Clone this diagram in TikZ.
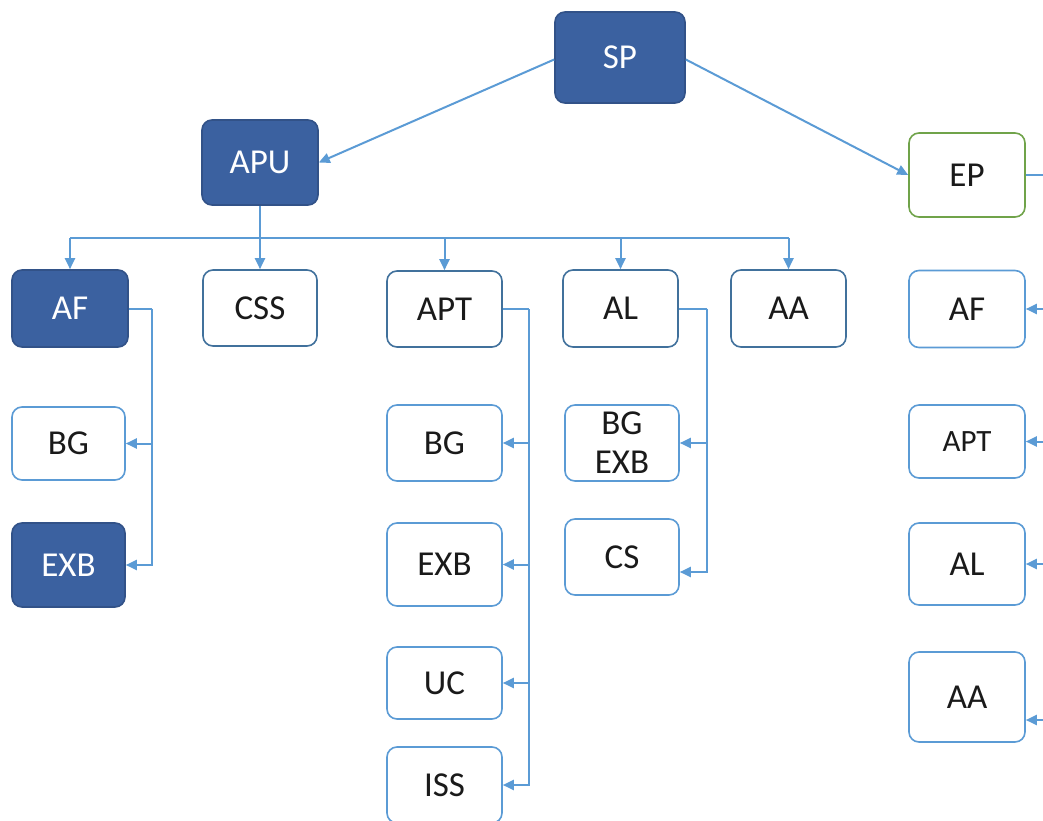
\documentclass[tikz,border=0pt]{standalone}
\usepackage{fontspec}
\setmainfont{Carlito}
\usetikzlibrary{arrows.meta,calc}
\definecolor{darkfill}{HTML}{3B61A0}
\definecolor{darkline}{HTML}{41719C}
\definecolor{lightline}{HTML}{5B9BD5}
\definecolor{greenline}{HTML}{70A34A}
\definecolor{txt}{HTML}{1A1A1A}
\tikzset{
  box/.style={rectangle, rounded corners=10pt, inner sep=0pt, line width=1.6pt,
    font=\fontsize{35}{39}\selectfont, align=center, text=txt},
  dark/.style={box, fill=darkfill, draw=darkfill!85!black, text=white},
  outl/.style={box, fill=white, draw=darkline},
  lite/.style={box, fill=white, draw=lightline},
  grn/.style={box, fill=white, draw=greenline},
  conn/.style={draw=lightline, line width=2pt, -{Triangle[length=11pt,width=10pt]}},
  plain/.style={draw=lightline, line width=2pt}
}
\begin{document}
\begin{tikzpicture}[x=1pt,y=-1pt]
\useasboundingbox (0,0) rectangle (1043,821);
\clip (0,0) rectangle (1043,821);
\coordinate (redge) at (1060,0);
% top level
\node[dark, minimum width=130pt, minimum height=91pt] (sp) at (620,57.5) {SP};
\node[dark, minimum width=116pt, minimum height=85pt] (apu) at (260,162.5) {APU};
\node[grn, minimum width=116pt, minimum height=84pt] (ep) at (967,175) {EP};
% row 1
\node[dark, minimum width=116pt, minimum height=77pt] (af1) at (70,308.5) {AF};
\node[outl, minimum width=114pt, minimum height=76pt] (css) at (260,308) {CSS};
\node[outl, minimum width=115pt, minimum height=76pt] (apt1) at (444.5,309) {APT};
\node[outl, minimum width=115pt, minimum height=77pt] (al1) at (620.5,308.5) {AL};
\node[outl, minimum width=115pt, minimum height=77pt] (aa1) at (788.5,308.5) {AA};
% AF children
\node[lite, minimum width=113pt, minimum height=73pt] (bg1) at (68.5,443.5) {BG};
\node[dark, minimum width=113pt, minimum height=84pt] (exb1) at (68.5,565) {EXB};
% APT children
\node[lite, minimum width=115pt, minimum height=76pt] (bg2) at (444.5,443) {BG};
\node[lite, minimum width=115pt, minimum height=83pt] (exb2) at (444.5,564.5) {EXB};
\node[lite, minimum width=115pt, minimum height=72pt] (uc) at (444.5,683) {UC};
\node[lite, minimum width=115pt, minimum height=76pt] (iss) at (444.5,785) {ISS};
% AL children
\node[lite, minimum width=114pt, minimum height=76pt] (bgexb) at (622,443) {BG\\EXB};
\node[lite, minimum width=114pt, minimum height=76pt] (cs) at (622,557) {CS};
% right column
\node[lite, minimum width=116pt, minimum height=77pt] (af2) at (967,309) {AF};
\node[lite, minimum width=116pt, minimum height=73pt] (apt2) at (967,441.5) {\fontsize{31}{36}\selectfont APT};
\node[lite, minimum width=116pt, minimum height=82pt] (al2) at (967,564) {AL};
\node[lite, minimum width=116pt, minimum height=90pt] (aa2) at (967,697) {AA};
% connectors top
\draw[conn] ([yshift=-2pt]sp.west) -- (apu.east);
\draw[conn] ([yshift=-2pt]sp.east) -- (ep.west);
\draw[plain] (ep.east) -- (ep.east -| redge);
% bus
\coordinate (bus) at (260,238);
\draw[plain] (apu.south) -- (bus);
\draw[plain] (af1.north |- bus) -- (aa1.north |- bus);
\draw[conn] (af1.north |- bus) -- (af1.north);
\draw[conn] (bus) -- (css.north);
\draw[conn] (apt1.north |- bus) -- (apt1.north);
\draw[conn] (al1.north |- bus) -- (al1.north);
\draw[conn] (aa1.north |- bus) -- (aa1.north);
% AF trunk
\coordinate (t1) at (152,308.5);
\draw[plain] (af1.east) -- (t1);
\draw[conn] (t1) |- (exb1.east);
\draw[conn] (t1 |- bg1.east) -- (bg1.east);
% APT trunk
\coordinate (t2) at (529,309);
\draw[plain] (apt1.east) -- (t2);
\draw[conn] (t2) |- (iss.east);
\draw[conn] (t2 |- bg2.east) -- (bg2.east);
\draw[conn] (t2 |- exb2.east) -- (exb2.east);
\draw[conn] (t2 |- uc.east) -- (uc.east);
% AL trunk
\coordinate (t3) at (707,308.5);
\draw[plain] (al1.east) -- (t3);
\draw[conn] (t3) |- ([yshift=-15pt]cs.east);
\draw[conn] (t3 |- bgexb.east) -- (bgexb.east);
% right column arrows from beyond the edge
\draw[conn] (af2.east -| redge) -- (af2.east);
\draw[conn] (apt2.east -| redge) -- (apt2.east);
\draw[conn] (al2.east -| redge) -- (al2.east);
\draw[conn] ([yshift=-23pt]aa2.east -| redge) -- ([yshift=-23pt]aa2.east);
\end{tikzpicture}
\end{document}
